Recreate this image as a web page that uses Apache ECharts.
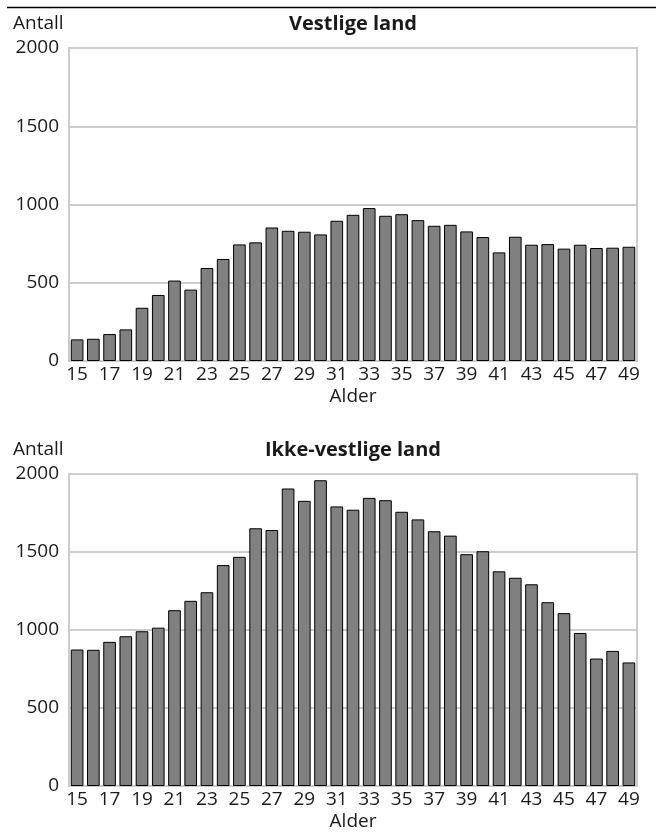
<!DOCTYPE html>
<html>
<head>
<meta charset="utf-8">
<script src="https://cdn.jsdelivr.net/npm/echarts@6/dist/echarts.min.js"></script>
<style>
html,body{margin:0;padding:0;background:#fff;}
#chart{width:656px;height:832px;}
</style>
</head>
<body>
<div id="chart"></div>
<script>
const ages = ['15','16','17','18','19','20','21','22','23','24','25','26','27','28','29','30','31','32','33','34','35','36','37','38','39','40','41','42','43','44','45','46','47','48','49'];
const vestlige = [138,142,172,202,340,422,514,456,594,652,745,758,853,832,826,809,896,934,977,928,938,900,864,870,828,792,694,794,743,747,718,743,722,724,730];
const ikkeVestlige = [875,873,924,960,992,1015,1127,1187,1242,1416,1469,1652,1641,1907,1828,1960,1792,1771,1847,1832,1758,1709,1633,1605,1486,1505,1376,1335,1293,1178,1108,981,817,866,792];
const yTicks = {min:0, max:2000, interval:500};
const titles = ['Vestlige land','Ikke-vestlige land'];
const yName = 'Antall';
const xName = 'Alder';

const FONT = 'Open Sans';
const TXT = '#1a1a1a';
const GRIDC = '#cccccc';

const grids = [
  {left:69, top:48, width:568, height:313},
  {left:69, top:474, width:568, height:314}
];

function xAxis(i){
  return {
    type:'category', gridIndex:i, data:ages,
    axisTick:{show:false},
    axisLine:{show:false},
    axisLabel:{interval:1, color:TXT, fontFamily:FONT, fontSize:19, margin:4},
    name:xName, nameLocation:'middle', nameGap:26,
    nameTextStyle:{color:TXT, fontFamily:FONT, fontSize:19}
  };
}
function yAxis(i){
  return {
    type:'value', gridIndex:i, min:yTicks.min, max:yTicks.max, interval:yTicks.interval,
    axisLine:{show:false}, axisTick:{show:false},
    axisLabel:{color:TXT, fontFamily:FONT, fontSize:19, margin:10, padding:[3,0,0,0],
      formatter: v => String(v)},
    splitLine:{show:true, lineStyle:{color:GRIDC, width:2}}
  };
}
function series(i, data){
  return {
    type:'bar', xAxisIndex:i, yAxisIndex:i, data:data,
    barCategoryGap:'22%',
    itemStyle:{color:'#808080', borderColor:'#000', borderWidth:1},
    emphasis:{disabled:true}, animation:false
  };
}

const chart = echarts.init(document.getElementById('chart'), null, {renderer:'canvas'});
chart.setOption({
  animation:false,
  grid: grids.map(g => Object.assign({show:true, borderColor:GRIDC, borderWidth:2, backgroundColor:'transparent'}, g)),
  title: [
    {text:titles[0], left:353, top:14, textAlign:'center', padding:0,
     textStyle:{fontFamily:FONT, fontWeight:'bold', fontSize:20, color:TXT}},
    {text:titles[1], left:353, top:440, textAlign:'center', padding:0,
     textStyle:{fontFamily:FONT, fontWeight:'bold', fontSize:20, color:TXT}},
    {text:yName, left:13, top:14, padding:0,
     textStyle:{fontFamily:FONT, fontWeight:'normal', fontSize:19, color:TXT}},
    {text:yName, left:13, top:440, padding:0,
     textStyle:{fontFamily:FONT, fontWeight:'normal', fontSize:19, color:TXT}}
  ],
  graphic:[
    {type:'line', shape:{x1:7, y1:7.5, x2:656, y2:7.5}, style:{stroke:'#000', lineWidth:1.5}}
  ],
  xAxis:[xAxis(0), xAxis(1)],
  yAxis:[yAxis(0), yAxis(1)],
  series:[series(0, vestlige), series(1, ikkeVestlige)]
});
</script>
</body>
</html>
